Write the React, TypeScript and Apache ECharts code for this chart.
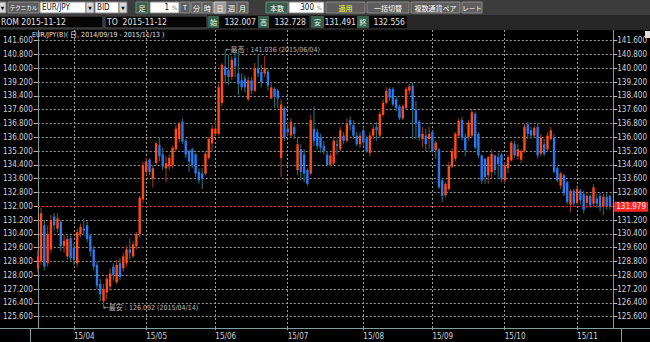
import React, { useEffect, useRef } from 'react';
import * as echarts from 'echarts';

// ---------- DATA ----------
const monthDays: [string, number[]][] = [
  ['2015/03', [17, 18, 19, 20, 23, 24, 25, 26, 27, 30, 31]],
  ['2015/04', [1, 2, 3, 6, 7, 8, 9, 10, 13, 14, 15, 16, 17, 20, 21, 22, 23, 24, 27, 28, 29, 30]],
  ['2015/05', [1, 4, 5, 6, 7, 8, 11, 12, 13, 14, 15, 18, 19, 20, 21, 22, 25, 26, 27, 28, 29]],
  ['2015/06', [1, 2, 3, 4, 5, 8, 9, 10, 11, 12, 15, 16, 17, 18, 19, 22, 23, 24, 25, 26, 29, 30]],
  ['2015/07', [1, 2, 3, 6, 7, 8, 9, 10, 13, 14, 15, 16, 17, 20, 21, 22, 23, 24, 27, 28, 29, 30, 31]],
  ['2015/08', [3, 4, 5, 6, 7, 10, 11, 12, 13, 14, 17, 18, 19, 20, 21, 24, 25, 26, 27, 28, 31]],
  ['2015/09', [1, 2, 3, 4, 7, 8, 9, 10, 11, 14, 15, 16, 17, 18, 21, 22, 23, 24, 25, 28, 29, 30]],
  ['2015/10', [1, 2, 5, 6, 7, 8, 9, 12, 13, 14, 15, 16, 19, 20, 21, 22, 23, 26, 27, 28, 29, 30]],
  ['2015/11', [2, 3, 4, 5, 6, 9, 10, 11, 12, 13, 16]],
];

const opens = [
  128.4, 128.8, 130.9, 128.7, 129.5, 131.4, 130.7, 131.1, 129.7, 129.1,
  130.15, 129.6, 128.7, 130.4, 130.7, 130.9, 130.3, 129.5, 128.6, 127.5,
  126.5, 127.0, 127.35, 128.5, 127.6, 128.7, 128.4, 128.7, 129.5, 129.1,
  129.7, 130.4, 132.4, 134.0, 134.7, 133.6, 134.5, 135.55, 135.0, 134.2,
  134.3, 134.4, 135.3, 135.9, 136.9, 135.8, 135.2, 135.3, 135.0, 134.0,
  133.9, 133.9, 134.8, 135.65, 136.2, 136.2, 138.0, 140.1, 139.9, 139.5,
  140.6, 139.7, 139.3, 139.4, 138.2, 139.3, 138.7, 140.0, 139.8, 139.7,
  139.8, 138.25, 138.8, 138.7, 134.8, 137.7, 136.5, 136.1, 136.6, 134.1,
  135.3, 135.0, 134.1, 133.9, 136.5, 136.3, 136.0, 135.5, 135.0, 134.4,
  134.5, 135.6, 135.3, 136.1, 135.8, 137.0, 136.7, 136.1, 135.6, 136.4,
  135.95, 135.1, 136.1, 136.6, 136.1, 137.3, 138.0, 138.8, 138.8, 138.2,
  137.8, 137.1, 137.7, 138.7, 139.0, 137.6, 136.9, 135.9, 136.1, 135.9,
  136.3, 135.25, 135.3, 133.5, 132.65, 133.0, 134.3, 134.75, 136.1, 137.0,
  136.0, 136.0, 136.1, 137.35, 136.2, 134.95, 134.75, 133.8, 133.98, 134.95,
  134.85, 135.0, 133.5, 134.2, 134.65, 135.6, 134.9, 134.7, 135.2, 136.75,
  136.4, 136.1, 136.6, 135.05, 135.6, 135.3, 135.9, 136.0, 134.2, 133.2,
  133.8, 133.4, 132.1, 132.9, 132.2, 132.9, 132.7, 132.2, 132.6, 132.15,
  132.45, 132.6, 132.007, 132.55, 132.6,
];
const highs = [
  129.5, 131.9, 131.2, 130.9, 131.5, 131.6, 131.6, 131.2, 130.3, 130.3,
  130.3, 129.9, 130.7, 131.0, 131.3, 131.1, 130.4, 129.7, 128.8, 127.8,
  127.5, 128.0, 128.4, 128.7, 128.9, 129.0, 129.3, 129.7, 130.15, 130.0,
  130.5, 132.6, 134.6, 134.8, 134.8, 134.4, 135.75, 136.0, 135.4, 134.9,
  135.0, 135.5, 136.7, 136.9, 137.1, 135.9, 135.3, 135.4, 135.1, 134.2,
  134.2, 135.2, 136.0, 136.7, 137.0, 139.1, 140.3, 141.036, 140.8, 140.7,
  140.9, 140.9, 139.7, 139.6, 139.5, 139.5, 140.3, 140.8, 140.2, 140.7,
  140.0, 139.2, 138.9, 138.8, 138.2, 137.8, 136.9, 137.1, 136.8, 136.0,
  135.6, 135.3, 134.2, 137.3, 137.8, 136.5, 136.2, 135.8, 135.2, 135.1,
  136.0, 135.9, 136.6, 136.3, 137.1, 137.2, 137.0, 136.3, 136.3, 136.6,
  136.1, 136.3, 136.7, 136.9, 137.5, 138.2, 138.9, 138.9, 138.9, 138.4,
  137.9, 137.9, 138.9, 139.1, 139.2, 138.1, 137.0, 136.6, 136.5, 136.6,
  136.4, 135.8, 135.4, 133.6, 133.4, 134.6, 135.4, 136.3, 137.1, 137.2,
  136.2, 137.0, 137.6, 137.5, 136.3, 135.0, 134.8, 134.9, 135.3, 135.0,
  135.1, 135.1, 134.6, 135.0, 135.8, 135.8, 135.6, 135.3, 136.8, 136.9,
  136.6, 136.7, 136.8, 136.2, 135.9, 136.3, 136.6, 136.2, 134.3, 134.0,
  133.9, 133.5, 133.0, 133.0, 133.2, 133.0, 132.9, 132.8, 132.7, 133.3,
  132.7, 132.8, 132.728, 132.75, 132.7,
];
const lows = [
  128.2, 128.6, 128.3, 128.5, 129.3, 130.6, 130.5, 129.4, 129.3, 128.9,
  128.8, 128.6, 128.5, 130.2, 130.3, 129.9, 129.1, 128.3, 127.2, 126.5,
  126.092, 126.6, 127.1, 127.7, 127.5, 127.7, 128.2, 128.5, 128.9, 129.0,
  129.5, 130.2, 132.2, 133.8, 133.8, 133.1, 134.4, 134.6, 134.1, 133.4,
  134.1, 134.2, 135.2, 135.7, 135.6, 134.8, 134.0, 134.2, 133.7, 133.3,
  133.0, 133.8, 134.7, 135.2, 136.1, 136.1, 137.8, 139.1, 139.0, 139.3,
  139.5, 138.45, 138.7, 138.6, 138.1, 138.5, 138.6, 139.5, 138.9, 139.5,
  138.7, 138.2, 137.7, 137.7, 133.7, 135.8, 136.1, 136.0, 135.9, 133.8,
  133.5, 133.4, 133.2, 133.8, 135.5, 135.3, 135.1, 135.0, 134.3, 134.3,
  134.4, 135.0, 135.2, 135.6, 135.7, 136.4, 135.9, 135.5, 135.4, 135.5,
  135.1, 134.9, 135.9, 135.8, 136.0, 137.2, 137.9, 138.1, 137.8, 137.5,
  137.0, 137.0, 137.6, 138.5, 135.9, 135.9, 135.8, 135.4, 135.2, 135.3,
  135.1, 134.75, 133.0, 132.25, 132.5, 132.9, 134.2, 134.6, 136.0, 135.8,
  134.9, 135.8, 136.0, 135.3, 134.8, 133.3, 133.3, 133.3, 133.6, 133.8,
  133.6, 133.4, 133.3, 133.9, 134.6, 134.8, 134.7, 134.5, 135.1, 135.9,
  135.9, 136.0, 134.8, 134.9, 134.9, 135.2, 135.8, 133.9, 133.4, 133.0,
  132.6, 132.1, 131.65, 132.0, 132.1, 132.1, 131.6, 131.9, 131.9, 132.0,
  131.9, 131.7, 131.491, 131.8, 131.8,
];
const closes = [
  129.1, 131.6, 128.5, 130.4, 131.2, 130.9, 131.3, 129.7, 130.0, 130.1,
  129.0, 128.9, 130.5, 130.8, 130.6, 130.1, 129.4, 128.5, 127.4, 126.9,
  127.2, 127.8, 128.1, 128.0, 128.6, 127.9, 129.1, 129.5, 129.3, 129.8,
  130.4, 132.5, 134.4, 134.6, 134.0, 134.2, 135.65, 134.9, 134.3, 134.5,
  134.8, 135.4, 136.5, 136.8, 135.75, 135.0, 134.6, 134.4, 133.9, 133.5,
  133.6, 135.05, 135.9, 136.5, 136.5, 138.9, 140.2, 139.6, 139.5, 140.5,
  140.1, 139.1, 138.9, 138.9, 139.3, 138.7, 140.0, 139.7, 139.2, 140.0,
  139.0, 138.9, 138.35, 138.25, 137.9, 136.0, 136.3, 136.9, 136.2, 135.6,
  134.0, 133.9, 133.3, 137.0, 135.8, 135.5, 135.4, 135.2, 134.4, 134.95,
  135.8, 135.5, 136.4, 135.8, 136.8, 136.7, 136.1, 135.6, 136.1, 135.7,
  135.2, 136.1, 136.5, 136.4, 137.35, 138.0, 138.7, 138.3, 137.9, 137.7,
  137.1, 137.8, 138.8, 138.95, 137.6, 136.8, 136.0, 136.2, 135.6, 136.2,
  135.2, 135.7, 133.1, 132.6, 133.3, 134.35, 135.2, 136.2, 136.95, 136.0,
  135.25, 136.85, 137.45, 135.4, 134.95, 133.5, 133.7, 134.85, 135.04, 134.1,
  134.45, 133.6, 134.37, 134.85, 135.7, 134.95, 135.3, 135.2, 136.6, 136.2,
  136.1, 136.55, 134.95, 136.0, 135.05, 136.1, 136.4, 134.0, 133.5, 133.9,
  132.75, 132.25, 132.9, 132.15, 133.0, 132.35, 131.8, 132.6, 132.05, 133.1,
  132.15, 131.95, 132.556, 132.0, 131.979,
];

const yTicks = [
  125.6, 126.4, 127.2, 128.0, 128.8, 129.6, 130.4, 131.2, 132.0, 132.8, 133.6,
  134.4, 135.2, 136.0, 136.8, 137.6, 138.4, 139.2, 140.0, 140.8, 141.6,
];
const currentPrice = 131.979;
const titleText = 'EUR/JPY(B)( 日, 2014/09/19 - 2015/11/13 )';

// ---------- STYLE ----------
const FONT = "'Liberation Sans Narrow', 'DejaVu Sans Condensed', 'Liberation Sans', 'Noto Sans CJK JP', sans-serif";
const FONT_JP = "'Noto Sans CJK JP', 'Liberation Sans Narrow', sans-serif";
const GRID_C = '#9a9a9a';
const AXIS_C = '#7fa0a0';
const LABEL_C = '#d2d2d2';
const UP_BODY = '#ff4a14';
const UP_WICK = '#8f3518';
const DN_BODY = '#2878f0';
const DN_WICK = '#23666e';
const Y_MIN = 124.945;
const Y_MAX = 142.22;

const dates: string[] = [];
monthDays.forEach(([ym, days]) => days.forEach((d) => dates.push(`${ym}/${String(d).padStart(2, '0')}`)));
const categories = [...dates, ''];
const monthStart = new Set<number>();
dates.forEach((d, i) => {
  if (i > 0 && d.slice(0, 7) !== dates[i - 1].slice(0, 7)) monthStart.add(i);
});
const isMonth = (i: number) => monthStart.has(i);

const candleData = opens.map((o, i) => [i, o, closes[i], lows[i], highs[i]]);

let hiIdx = 0;
let loIdx = 0;
highs.forEach((h, i) => { if (h > highs[hiIdx]) hiIdx = i; });
lows.forEach((l, i) => { if (l < lows[loIdx]) loIdx = i; });
const extremeTexts = [
  `←最高 : ${highs[hiIdx].toFixed(3)} (${dates[hiIdx]})`,
  `←最安 : ${lows[loIdx].toFixed(3)} (${dates[loIdx]})`,
];

// ---------- HEADER GRAPHICS ----------
const rect = (x: number, y: number, w: number, h: number, fill: string, stroke?: string) => ({
  type: 'rect', z: 100, silent: true,
  shape: { x, y, width: w, height: h },
  style: { fill, stroke: stroke || 'none', lineWidth: stroke ? 1 : 0 },
});
const text = (t: string, x: number, y: number, fill: string, size = 8, align = 'left', font = FONT) => ({
  type: 'text', z: 101, silent: true, x, y,
  style: { text: t, fill, fontSize: size, fontFamily: font, textAlign: align, textVerticalAlign: 'middle', align, verticalAlign: 'middle' },
});

const BTN = '#5e5e5e';
const BTN_B = '#8a8a8a';
const GREEN = '#3a5e4c';

const header: any[] = [
  rect(0, 0, 650, 15, '#3c3c3c'),
  rect(0, 15, 650, 15, '#262626'),
  // row 1
  rect(-1, 2, 7, 11, '#d8d8d8', '#777'), text('▼', 2.5, 7.5, '#111', 5, 'center'),
  rect(8, 2, 31, 11, BTN, BTN_B), text('テクニカル', 23.5, 7.5, '#fff', 5.5, 'center', FONT_JP),
  rect(40, 2, 46, 11, '#ffffff', '#888'), text('EUR/JPY', 42, 7.5, '#111', 8),
  rect(86, 2, 8, 11, '#d8d8d8', '#777'), text('▼', 90, 7.5, '#111', 5, 'center'),
  rect(95, 2, 24, 11, '#ffffff', '#888'), text('BID', 97, 7.5, '#111', 8),
  rect(119, 2, 8, 11, '#d8d8d8', '#777'), text('▼', 123, 7.5, '#111', 5, 'center'),
  rect(136, 2, 12, 11, GREEN, '#6a8a7a'), text('足', 142, 7.5, '#fff', 7, 'center', FONT_JP),
  rect(150, 2, 29, 11, '#ffffff', '#888'), text('1', 169, 7.5, '#111', 8, 'right'), text('%', 174.5, 7.5, '#777', 6, 'center'),
  rect(180, 2, 10, 11, BTN, BTN_B), text('T', 185, 7.5, '#fff', 7, 'center'),
  rect(191, 2, 11, 11, BTN, BTN_B), text('分', 196.5, 7.5, '#fff', 7, 'center', FONT_JP),
  rect(202, 2, 11, 11, BTN, BTN_B), text('時', 207.5, 7.5, '#fff', 7, 'center', FONT_JP),
  rect(214, 2, 12, 11, '#9a9a9a', '#cfcfcf'), text('日', 220, 7.5, '#fff', 7, 'center', FONT_JP),
  rect(226, 2, 11, 11, BTN, BTN_B), text('週', 231.5, 7.5, '#fff', 7, 'center', FONT_JP),
  rect(237, 2, 11, 11, BTN, BTN_B), text('月', 242.5, 7.5, '#fff', 7, 'center', FONT_JP),
  rect(266, 2, 22, 11, GREEN, '#6a8a7a'), text('本数', 277, 7.5, '#fff', 7, 'center', FONT_JP),
  rect(289, 2, 35, 11, '#ffffff', '#888'), text('300', 314, 7.5, '#111', 8, 'right'), text('%', 319, 7.5, '#777', 6, 'center'),
  rect(326, 2, 39, 11, BTN, BTN_B), text('適用', 345.5, 7.5, '#ffff33', 7, 'center', FONT_JP),
  rect(367, 2, 42, 11, BTN, BTN_B), text('一括切替', 388, 7.5, '#fff', 7, 'center', FONT_JP),
  rect(411, 2, 49, 11, BTN, BTN_B), text('複数通貨ペア', 435.5, 7.5, '#fff', 7, 'center', FONT_JP),
  rect(462, 2, 20, 11, BTN, BTN_B), text('レート', 472, 7.5, '#fff', 6.5, 'center', FONT_JP),
  // row 2
  rect(-1, 16, 104, 12, '#050505', '#555'), text('ROM 2015-11-12', 1, 22, '#e0e0e0', 8.5),
  rect(105, 16, 102, 12, '#050505', '#555'), text('TO  2015-11-12', 107, 22, '#e0e0e0', 8.5),
  rect(208, 16, 11, 12, GREEN), text('始', 213.5, 22, '#dfe', 7, 'center', FONT_JP),
  rect(219, 16, 39, 12, '#050505'), text('132.007', 256, 22, '#e0e0e0', 8.5, 'right'),
  rect(258, 16, 11, 12, GREEN), text('高', 263.5, 22, '#dfe', 7, 'center', FONT_JP),
  rect(269, 16, 40, 12, '#050505'), text('132.728', 306, 22, '#e0e0e0', 8.5, 'right'),
  rect(311, 16, 13, 12, GREEN), text('安', 317.5, 22, '#dfe', 7, 'center', FONT_JP),
  rect(324, 16, 33, 12, '#050505'), text('131.491', 356, 22, '#e0e0e0', 8.5, 'right'),
  rect(357, 16, 12, 12, GREEN), text('終', 363, 22, '#dfe', 7, 'center', FONT_JP),
  rect(369, 16, 38, 12, '#050505'), text('132.556', 405, 22, '#e0e0e0', 8.5, 'right'),
  // chart decorations
  text(titleText, 32, 34.5, '#e0e0e0', 7),
  rect(645, 31, 5, 7, '#dddddd'),
  { type: 'line', z: 50, silent: true, shape: { x1: 0, y1: 328.5, x2: 650, y2: 328.5 }, style: { stroke: AXIS_C, lineWidth: 1 } },
  { type: 'line', z: 50, silent: true, shape: { x1: 30.5, y1: 328, x2: 30.5, y2: 342 }, style: { stroke: AXIS_C, lineWidth: 1 } },
  { type: 'line', z: 50, silent: true, shape: { x1: 621.5, y1: 328, x2: 621.5, y2: 342 }, style: { stroke: AXIS_C, lineWidth: 1 } },
];

// ---------- OPTION ----------
const yAxisCommon = {
  type: 'value',
  min: Y_MIN,
  max: Y_MAX,
  axisLine: { show: true, lineStyle: { color: AXIS_C, width: 1 } },
  axisTick: { show: true, customValues: yTicks, length: 4, lineStyle: { color: '#bbbbbb' } },
};

const option: any = {
  animation: false,
  backgroundColor: '#000000',
  grid: { left: 30, right: 29, top: 30, bottom: 14, containLabel: false },
  xAxis: {
    type: 'category',
    data: categories,
    boundaryGap: false,
    axisLine: { show: true, lineStyle: { color: AXIS_C } },
    axisTick: { show: true, interval: (i: number) => isMonth(i), length: 4, lineStyle: { color: GRID_C, type: [2, 2] } },
    axisLabel: {
      interval: (i: number) => isMonth(i),
      formatter: (v: string) => v.slice(2, 7),
      color: LABEL_C, fontSize: 8, fontFamily: FONT, align: 'left', margin: 4,
    },
    splitLine: { show: true, interval: (i: number) => isMonth(i), lineStyle: { color: GRID_C, type: [2, 2], width: 1 } },
  },
  yAxis: [
    {
      ...yAxisCommon,
      position: 'left',
      axisLabel: { customValues: yTicks, formatter: (v: number) => v.toFixed(3), color: LABEL_C, fontSize: 8, fontFamily: FONT, margin: 5 },
      splitLine: { show: true, lineStyle: { color: GRID_C, type: [2, 2], width: 1 } },
    },
    {
      ...yAxisCommon,
      position: 'right',
      axisLabel: {
        customValues: yTicks,
        formatter: (v: number) => (Math.abs(v - 132) < 1e-6 ? '' : v.toFixed(3)),
        color: LABEL_C, fontSize: 8, fontFamily: FONT, margin: 4,
      },
      splitLine: { show: false },
    },
  ],
  graphic: { elements: header },
  series: [
    {
      type: 'custom',
      clip: true,
      data: candleData,
      encode: { x: 0, y: [1, 2, 3, 4] },
      renderItem: (_p: any, api: any) => {
        const idx = api.value(0);
        const o = api.value(1);
        const c = api.value(2);
        const l = api.value(3);
        const h = api.value(4);
        const pO = api.coord([idx, o]);
        const pC = api.coord([idx, c]);
        const pL = api.coord([idx, l]);
        const pH = api.coord([idx, h]);
        const up = c >= o;
        const x = pO[0];
        const top = Math.min(pO[1], pC[1]);
        const bot = Math.max(pO[1], pC[1]);
        return {
          type: 'group',
          children: [
            { type: 'line', shape: { x1: x, y1: pH[1], x2: x, y2: pL[1] }, style: { stroke: up ? UP_WICK : DN_WICK, lineWidth: 1.2 } },
            { type: 'rect', shape: { x: x - 1.2, y: top, width: 2.4, height: Math.max(bot - top, 1) }, style: { fill: up ? UP_BODY : DN_BODY } },
          ],
        };
      },
    },
    {
      type: 'scatter',
      data: [[hiIdx, highs[hiIdx]], [loIdx, lows[loIdx]]],
      symbolSize: 0,
      silent: true,
      z: 5,
      label: {
        show: true, position: 'right', distance: 0,
        formatter: (p: any) => extremeTexts[p.dataIndex],
        color: '#e0e0e0', fontSize: 7, fontFamily: FONT,
      },
    },
    {
      type: 'line',
      data: [],
      silent: true,
      z: 4,
      markLine: {
        silent: true,
        symbol: 'none',
        animation: false,
        data: [{ yAxis: currentPrice }],
        lineStyle: { color: '#ff2020', type: [2, 2], width: 1 },
        label: {
          show: true, position: 'end', distance: 1,
          formatter: currentPrice.toFixed(3),
          backgroundColor: '#ff2626', color: '#ffe8e8',
          fontSize: 8, fontFamily: FONT, padding: [1, 2, 1, 2],
        },
      },
    },
  ],
};

export default function App() {
  const ref = useRef<HTMLDivElement>(null);
  useEffect(() => {
    if (!ref.current) return;
    const chart = echarts.init(ref.current, undefined, { renderer: 'svg' });
    chart.setOption(option);
    return () => chart.dispose();
  }, []);
  return (
    <div
      ref={ref}
      style={{ position: 'fixed', left: 0, top: 0, width: 650, height: 342, background: '#000' }}
    />
  );
}
